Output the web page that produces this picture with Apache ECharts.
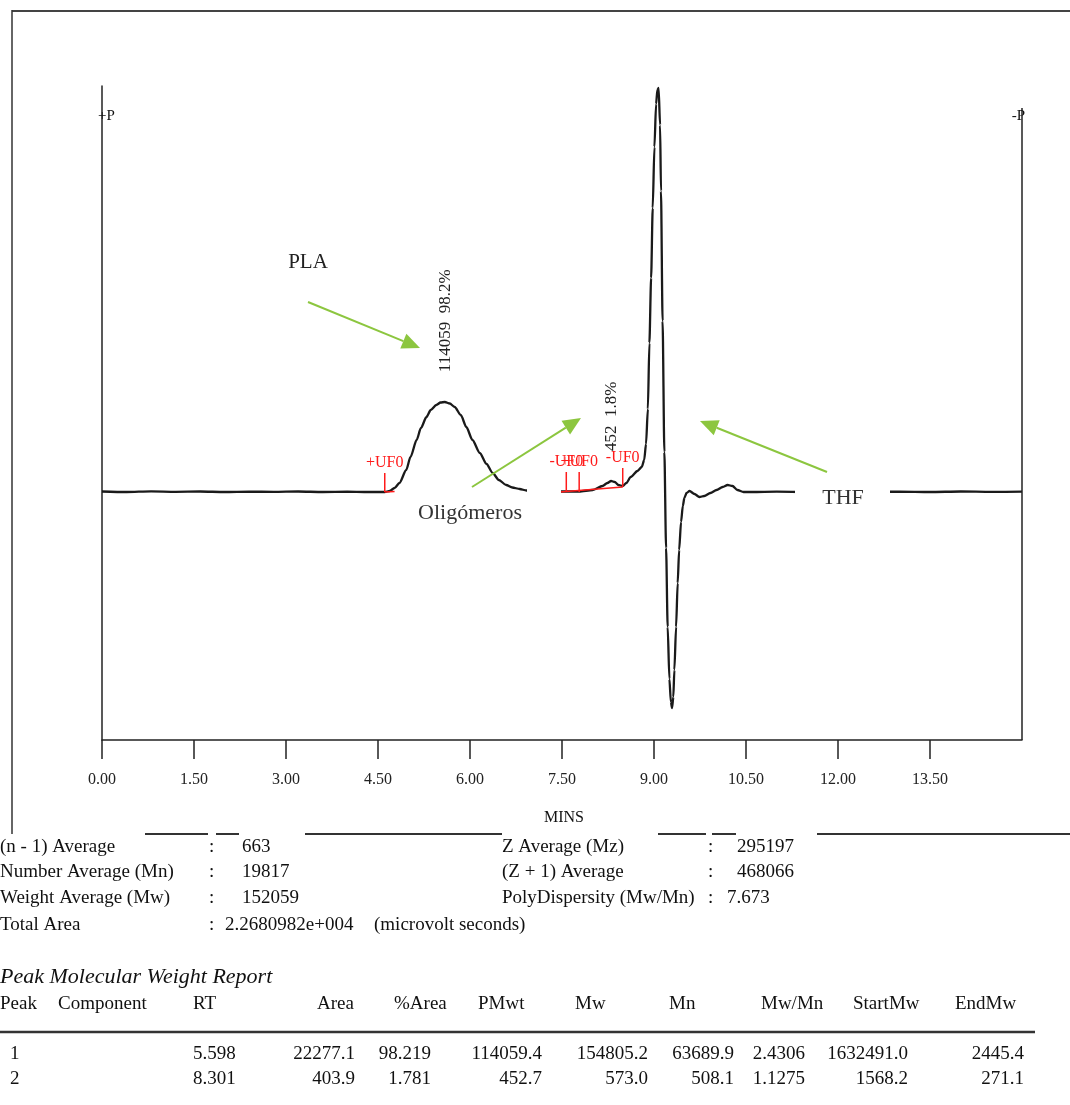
<!DOCTYPE html>
<html><head><meta charset="utf-8">
<script src="https://cdn.jsdelivr.net/npm/echarts@6/dist/echarts.min.js"></script>
<style>html,body{margin:0;padding:0;background:#fff}#c{width:1070px;height:1105px}</style>
</head><body><div id="c"></div>
<script>
// ---- data ----
const times  = [0,0.4,0.8,1.2,1.6,2.0,2.4,2.8,3.2,3.6,4.0,4.3,4.61,4.69,4.77,4.85,4.96,5.03,5.13,5.20,5.29,5.36,5.45,5.52,5.59,5.67,5.75,5.85,5.94,6.04,6.16,6.27,6.37,6.47,6.59,6.69,6.81,6.92,7.13,7.46,7.78,8.00,8.16,8.24,8.30,8.36,8.42,8.49,8.55,8.62,8.73,8.80,8.84,8.87,8.90,8.925,8.953,8.979,9.007,9.034,9.055,9.075,9.099,9.114,9.140,9.169,9.197,9.223,9.251,9.275,9.295,9.315,9.332,9.36,9.386,9.41,9.441,9.47,9.495,9.53,9.58,9.66,9.74,9.82,9.92,10.02,10.12,10.20,10.28,10.36,10.46,10.6,11.0,11.5,12.0,12.5,13.0,13.5,14.0,14.5,15.0];
const signal = [0.5,0,0.6,0.2,0.5,0,0.4,0.1,0.5,0,0.3,0,0,1,4,9,22,35,52,64,75,82,87,89.5,90,88.5,85,77,65,52,39,28,19,12,7,4.5,3,1.5,1,0.5,0.5,2,6,9,11,10,7,6,9,15,21,25,32,48,83,149,214,284,345,388,402,404,367,301,171,40,-56,-135,-187,-210,-216,-205,-178,-135,-91,-58,-30,-14,-6,-1,1,-2,-5,-4,-1,2,5,7,6,2,0,0,0.4,0,0.5,0.1,0.4,0,0.5,0.1,0.3];
const tickValues = [0,1.5,3,4.5,6,7.5,9,10.5,12,13.5];
const tickLabels = ['0.00','1.50','3.00','4.50','6.00','7.50','9.00','10.50','12.00','13.50'];
const ufTimes  = [4.61,7.57,7.78,8.49];
const ufLabels = ['+UF0','-UF0','+UF0','-UF0'];
const ufTop    = [19,20,20,24];
const ufBase   = [0,0,0,5];
const peakTimes  = [5.598,8.301];
const peakLabels = ['114059  98.2%','452  1.8%'];
const statLabelsL = ['(n - 1) Average','Number Average (Mn)','Weight Average (Mw)','Total Area'];
const statValuesL = ['663','19817','152059','2.2680982e+004'];
const statLabelsR = ['Z Average (Mz)','(Z + 1) Average','PolyDispersity (Mw/Mn)'];
const statValuesR = ['295197','468066','7.673'];
const tableHeader = ['Peak','Component','RT','Area','%Area','PMwt','Mw','Mn','Mw/Mn','StartMw','EndMw'];
const peakRow1 = ['1','','5.598','22277.1','98.219','114059.4','154805.2','63689.9','2.4306','1632491.0','2445.4'];
const peakRow2 = ['2','','8.301','403.9','1.781','452.7','573.0','508.1','1.1275','1568.2','271.1'];
// ---------------------------------------

const SERIF = '"Liberation Serif", "Times New Roman", serif';
const GREEN = '#8cc63f';
const RED = '#ff1a1a';
const chart = echarts.init(document.getElementById('c'), null, {renderer:'canvas'});

function interp(t){
  for(let i=1;i<times.length;i++){ if(times[i]>=t){const f=(t-times[i-1])/(times[i]-times[i-1]);return signal[i-1]+f*(signal[i]-signal[i-1]);} }
  return 0;
}
function txt(x,y,text,opt){
  opt=opt||{};
  return {type:'text', z:110, x:x, y:y, style:{text:text, fill:opt.fill||'#111', font:(opt.italic?'italic ':'')+(opt.size||19)+'px '+SERIF, textAlign:opt.align||'left', textVerticalAlign:'middle'}};
}
function arrow(x1,y1,x2,y2){
  const a=Math.atan2(y2-y1,x2-x1), L=18, W=8;
  const bx=x2-L*Math.cos(a), by=y2-L*Math.sin(a);
  const px=-Math.sin(a)*W, py=Math.cos(a)*W;
  return [
    {type:'line', z:120, shape:{x1:x1,y1:y1,x2:bx,y2:by}, style:{stroke:GREEN, lineWidth:2}},
    {type:'polygon', z:120, shape:{points:[[x2,y2],[bx+px,by+py],[bx-px,by-py]]}, style:{fill:GREEN}}
  ];
}

const g = [];
// outer frame fragments
g.push({type:'line', z:50, shape:{x1:12,y1:11,x2:1070,y2:11}, style:{stroke:'#444', lineWidth:2}});
g.push({type:'line', z:50, shape:{x1:12,y1:10,x2:12,y2:834}, style:{stroke:'#333', lineWidth:1.5}});
[[145,208],[216,239],[305,502],[658,706],[712,736],[817,1070]].forEach(s=>{
  g.push({type:'line', z:50, shape:{x1:s[0],y1:834,x2:s[1],y2:834}, style:{stroke:'#333', lineWidth:2}});
});
// right axis line and P markers
g.push({type:'line', z:50, shape:{x1:1022,y1:108,x2:1022,y2:740}, style:{stroke:'#222', lineWidth:1.5}});
g.push(txt(98,116,'+P',{size:15}));
g.push(txt(1025,116,'-P',{size:15,align:'right'}));
g.push(txt(564,818,'MINS',{size:16,align:'center'}));
// white masks behind annotation texts
g.push({type:'rect', z:100, shape:{x:527,y:487,width:34,height:12}, style:{fill:'#fff'}});
g.push({type:'rect', z:100, shape:{x:405,y:497,width:156,height:34}, style:{fill:'#fff'}});
g.push({type:'rect', z:100, shape:{x:795,y:483,width:95,height:32}, style:{fill:'#fff'}});
g.push(txt(308,262,'PLA',{size:21,align:'center',fill:'#222'}));
g.push(txt(470,513,'Oligómeros',{size:22,align:'center',fill:'#333'}));
g.push(txt(843,498,'THF',{size:22,align:'center',fill:'#333'}));
g.push(...arrow(308,302,420,348));
g.push(...arrow(472,487,581,418));
g.push(...arrow(827,472,700,421));
// stats block
const rowsY=[847,872,898,925];
statLabelsL.forEach((s,i)=>{ g.push(txt(0,rowsY[i],s)); g.push(txt(209,rowsY[i],':')); });
statValuesL.forEach((s,i)=>{ g.push(txt(i===3?225:242,rowsY[i],s)); });
g.push(txt(374,rowsY[3],'(microvolt seconds)'));
statLabelsR.forEach((s,i)=>{ g.push(txt(502,rowsY[i],s)); g.push(txt(708,rowsY[i],':')); });
statValuesR.forEach((s,i)=>{ g.push(txt(i===2?727:737,rowsY[i],s)); });
// peak report
g.push(txt(0,977,'Peak Molecular Weight Report',{italic:true,size:22}));
const headX=[0,58,193,317,394,478,575,669,761,853,955];
tableHeader.forEach((h,i)=>g.push(txt(headX[i],1004,h)));
g.push({type:'line', z:50, shape:{x1:0,y1:1032,x2:1035,y2:1032}, style:{stroke:'#333', lineWidth:2.5}});
const colRight=[null,null,null,355,431,542,648,734,805,908,1024];
[peakRow1,peakRow2].forEach((row,r)=>{
  const y=r===0?1054:1079;
  row.forEach((v,i)=>{
    if(!v) return;
    if(i===0) g.push(txt(10,y,v));
    else if(i===2) g.push(txt(193,y,v));
    else g.push(txt(colRight[i],y,v,{align:'right'}));
  });
});

chart.setOption({
  animation:false,
  backgroundColor:'#fff',
  grid:{left:102, top:86, right:48, bottom:365},
  xAxis:{type:'value', min:0, max:15, interval:1.5,
    axisLine:{show:true, onZero:false, lineStyle:{color:'#222', width:1.5}},
    axisTick:{show:true, length:19, customValues:tickValues, lineStyle:{color:'#222', width:1.5}},
    axisLabel:{show:true, customValues:tickValues, margin:32, color:'#222', fontFamily:SERIF, fontSize:16,
      formatter:function(v){const k=tickValues.indexOf(v);return k>=0?tickLabels[k]:'';}},
    splitLine:{show:false}},
  yAxis:{type:'value', min:-248, max:406,
    axisLine:{show:true, onZero:false, lineStyle:{color:'#222', width:1.5}},
    axisTick:{show:false}, axisLabel:{show:false}, splitLine:{show:false}},
  graphic:{elements:g},
  series:[
    {type:'line', data:times.map((t,i)=>[t,signal[i]]), symbol:'none', smooth:0.25, smoothMonotone:'x',
     lineStyle:{color:'#1a1a1a', width:2.3}, z:2},
    {type:'custom', z:5, clip:false,
     data:ufTimes.map((t,i)=>[t,ufTop[i],ufBase[i],i]),
     encode:{x:0,y:1},
     renderItem:function(params,api){
       const i=api.value(3);
       const top=api.coord([api.value(0),api.value(1)]);
       const bot=api.coord([api.value(0),api.value(2)]);
       return {type:'group', children:[
         {type:'line', shape:{x1:top[0],y1:top[1],x2:bot[0],y2:bot[1]}, style:{stroke:RED, lineWidth:1.5}},
         {type:'text', x:top[0], y:top[1]-2, style:{text:ufLabels[i], fill:RED, font:'16px '+SERIF, textAlign:'center', textVerticalAlign:'bottom'}}
       ]};
     }},
    {type:'custom', z:4, clip:false,
     data:[[ufTimes[0],ufBase[0],4.77,0.5],[7.46,0,ufTimes[3],ufBase[3]]],
     encode:{x:0,y:1},
     renderItem:function(params,api){
       const a=api.coord([api.value(0),api.value(1)]);
       const b=api.coord([api.value(2),api.value(3)]);
       return {type:'line', shape:{x1:a[0],y1:a[1],x2:b[0],y2:b[1]}, style:{stroke:RED, lineWidth:1.5}};
     }},
    {type:'custom', z:6, clip:false,
     data:peakTimes.map((t,i)=>[t,interp(t)+30,i]),
     encode:{x:0,y:1},
     renderItem:function(params,api){
       const p=api.coord([api.value(0),api.value(1)]);
       return {type:'text', x:p[0], y:p[1], rotation:Math.PI/2,
         style:{text:peakLabels[api.value(2)], fill:'#222', font:'17px '+SERIF, textAlign:'left', textVerticalAlign:'middle'}};
     }}
  ]
});
</script></body></html>
